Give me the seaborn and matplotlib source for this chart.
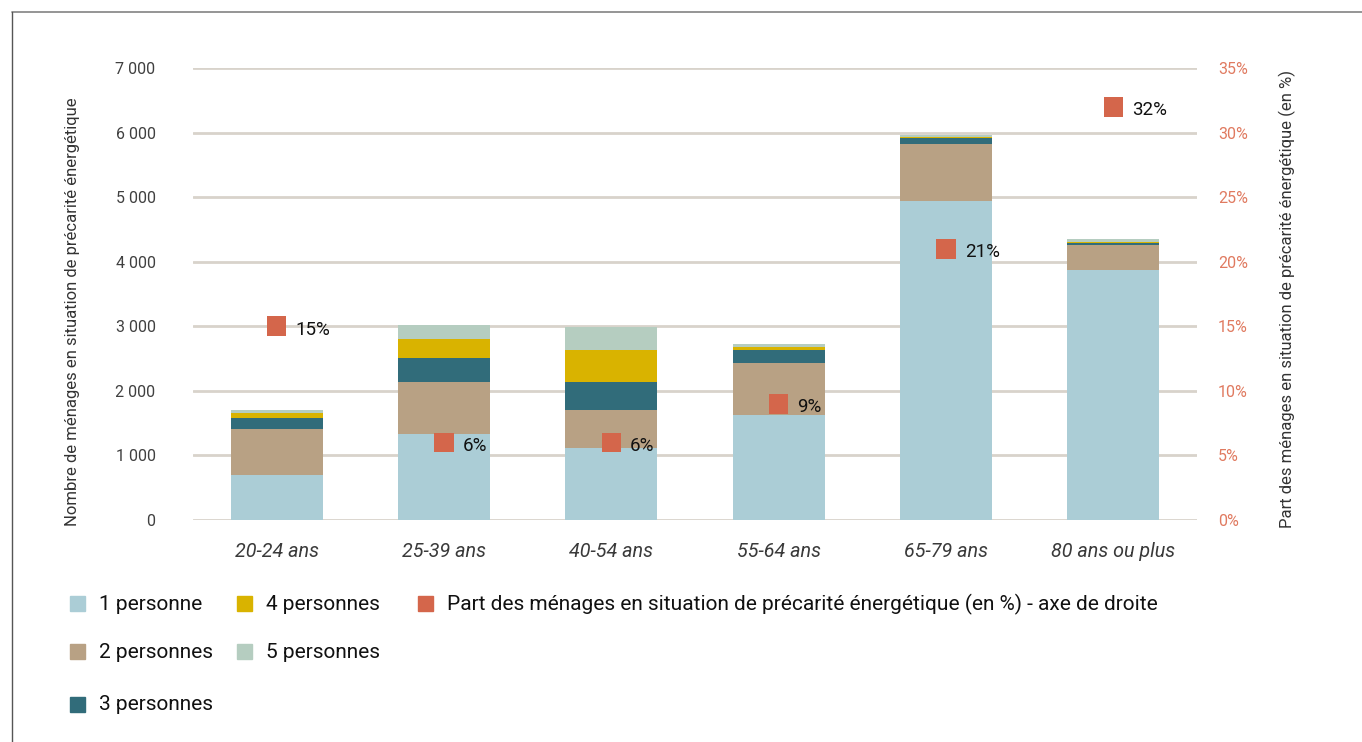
import numpy as np
import matplotlib
matplotlib.use("Agg")
import matplotlib.pyplot as plt
from matplotlib.patches import Rectangle
from matplotlib.lines import Line2D
from matplotlib.ticker import FuncFormatter
import seaborn as sns

# Age groups of the household reference person
categories = ["20-24 ans", "25-39 ans", "40-54 ans", "55-64 ans", "65-79 ans", "80 ans ou plus"]

# Households in energy poverty, by household size
p1 = [690, 1330, 1115, 1625, 4940, 3875]
p2 = [720, 800, 595, 805, 890, 380]
p3 = [170, 380, 420, 205, 85, 35]
p4 = [80, 295, 510, 40, 10, 15]
p5 = [40, 215, 345, 50, 40, 45]

# Share of households in energy poverty (%), right axis
share = [15, 6, 6, 9, 21, 32]

series_labels = ["1 personne", "2 personnes", "3 personnes", "4 personnes", "5 personnes"]
series_colors = ["#ABCDD6", "#B8A184", "#316C7A", "#D9B300", "#B5CDC0"]
share_label = "Part des ménages en situation de précarité énergétique (en %) - axe de droite"
share_color = "#D4664B"

left_title = "Nombre de ménages en situation de précarité énergétique"
right_title = "Part des ménages en situation de précarité énergétique (en %)"

sns.set_theme(style="white")
plt.rcParams["font.family"] = ["Roboto", "DejaVu Sans"]

W, H = 1362, 742
fig = plt.figure(figsize=(W / 100, H / 100), dpi=100)
ax = fig.add_axes([193 / W, 1 - 520 / H, (1197 - 193) / W, (520 - 68) / H])

# Stacked bars: draw cumulative totals from the top layer down
layers = [p1, p2, p3, p4, p5]
cum = np.cumsum(np.array(layers, dtype=float), axis=0)
for k in range(len(layers) - 1, -1, -1):
    sns.barplot(x=categories, y=cum[k], color=series_colors[k], width=0.55,
                saturation=1, linewidth=0, ax=ax, zorder=3)

ax.set_xlim(-0.5, len(categories) - 0.5)
ax.set_ylim(0, 7000)
ax.set_yticks(np.arange(0, 7001, 1000))
ax.yaxis.set_major_formatter(FuncFormatter(lambda v, p: f"{int(v):,}".replace(",", " ")))
ax.grid(axis="y", color="#D8D3CB", linewidth=2.0, zorder=0)
ax.set_axisbelow(True)
for s in ax.spines.values():
    s.set_visible(False)
ax.tick_params(axis="y", length=0, pad=27, labelsize=11.5, labelcolor="#404040")
ax.tick_params(axis="x", length=0, pad=16, labelsize=14.2, labelcolor="#3A3A3A")
for t in ax.get_xticklabels():
    t.set_fontstyle("italic")
ax.set_xlabel("")
ax.set_ylabel("")

# Share markers on the right axis
ax2 = ax.twinx()
xs = np.arange(len(categories))
sns.scatterplot(x=xs, y=share, marker="s", s=200, color=share_color,
                edgecolor="none", linewidth=0, ax=ax2, zorder=5, legend=False)
ax2.set_ylim(0, 35)
ax2.set_yticks(np.arange(0, 36, 5))
ax2.yaxis.set_major_formatter(FuncFormatter(lambda v, p: f"{int(v)}%"))
ax2.tick_params(axis="y", length=0, pad=15, labelsize=11.5, labelcolor="#E07A60")
for s in ax2.spines.values():
    s.set_visible(False)
ax2.set_ylabel("")
ax2.grid(False)
for x, v in zip(xs, share):
    ax2.annotate(f"{v}%", (x, v), xytext=(13.5, -2.5), textcoords="offset points",
                 ha="left", va="center", fontsize=13.5, color="#111111")

# Axis titles
fig.text(73 / W, 1 - 312 / H, left_title, rotation=90, ha="center", va="center",
         fontsize=12, color="#333333")
fig.text(1287 / W, 1 - 299 / H, right_title, rotation=90, ha="center", va="center",
         fontsize=12, color="#333333")

# Legend laid out in three columns
legend_items = [
    (70, 603, series_colors[0], series_labels[0]),
    (70, 651, series_colors[1], series_labels[1]),
    (70, 704, series_colors[2], series_labels[2]),
    (237, 603, series_colors[3], series_labels[3]),
    (237, 651, series_colors[4], series_labels[4]),
    (418, 603, share_color, share_label),
]
sq = 15
for x0, yc, c, lab in legend_items:
    fig.patches.append(Rectangle((x0 / W, 1 - (yc + sq / 2) / H), sq / W, sq / H,
                                 transform=fig.transFigure, color=c, figure=fig))
    fig.text((x0 + 29) / W, 1 - (yc + 1) / H, lab, ha="left", va="center",
             fontsize=15, color="#111111")

# Frame lines along the top and left edges
fig.lines.append(Line2D([12 / W, 1.0], [1 - 12 / H, 1 - 12 / H], transform=fig.transFigure,
                        color="#8C8C8C", linewidth=1.3))
fig.lines.append(Line2D([12 / W, 12 / W], [0.0, 1 - 12 / H], transform=fig.transFigure,
                        color="#555555", linewidth=1.0))

fig.savefig("out.png", dpi=100)
